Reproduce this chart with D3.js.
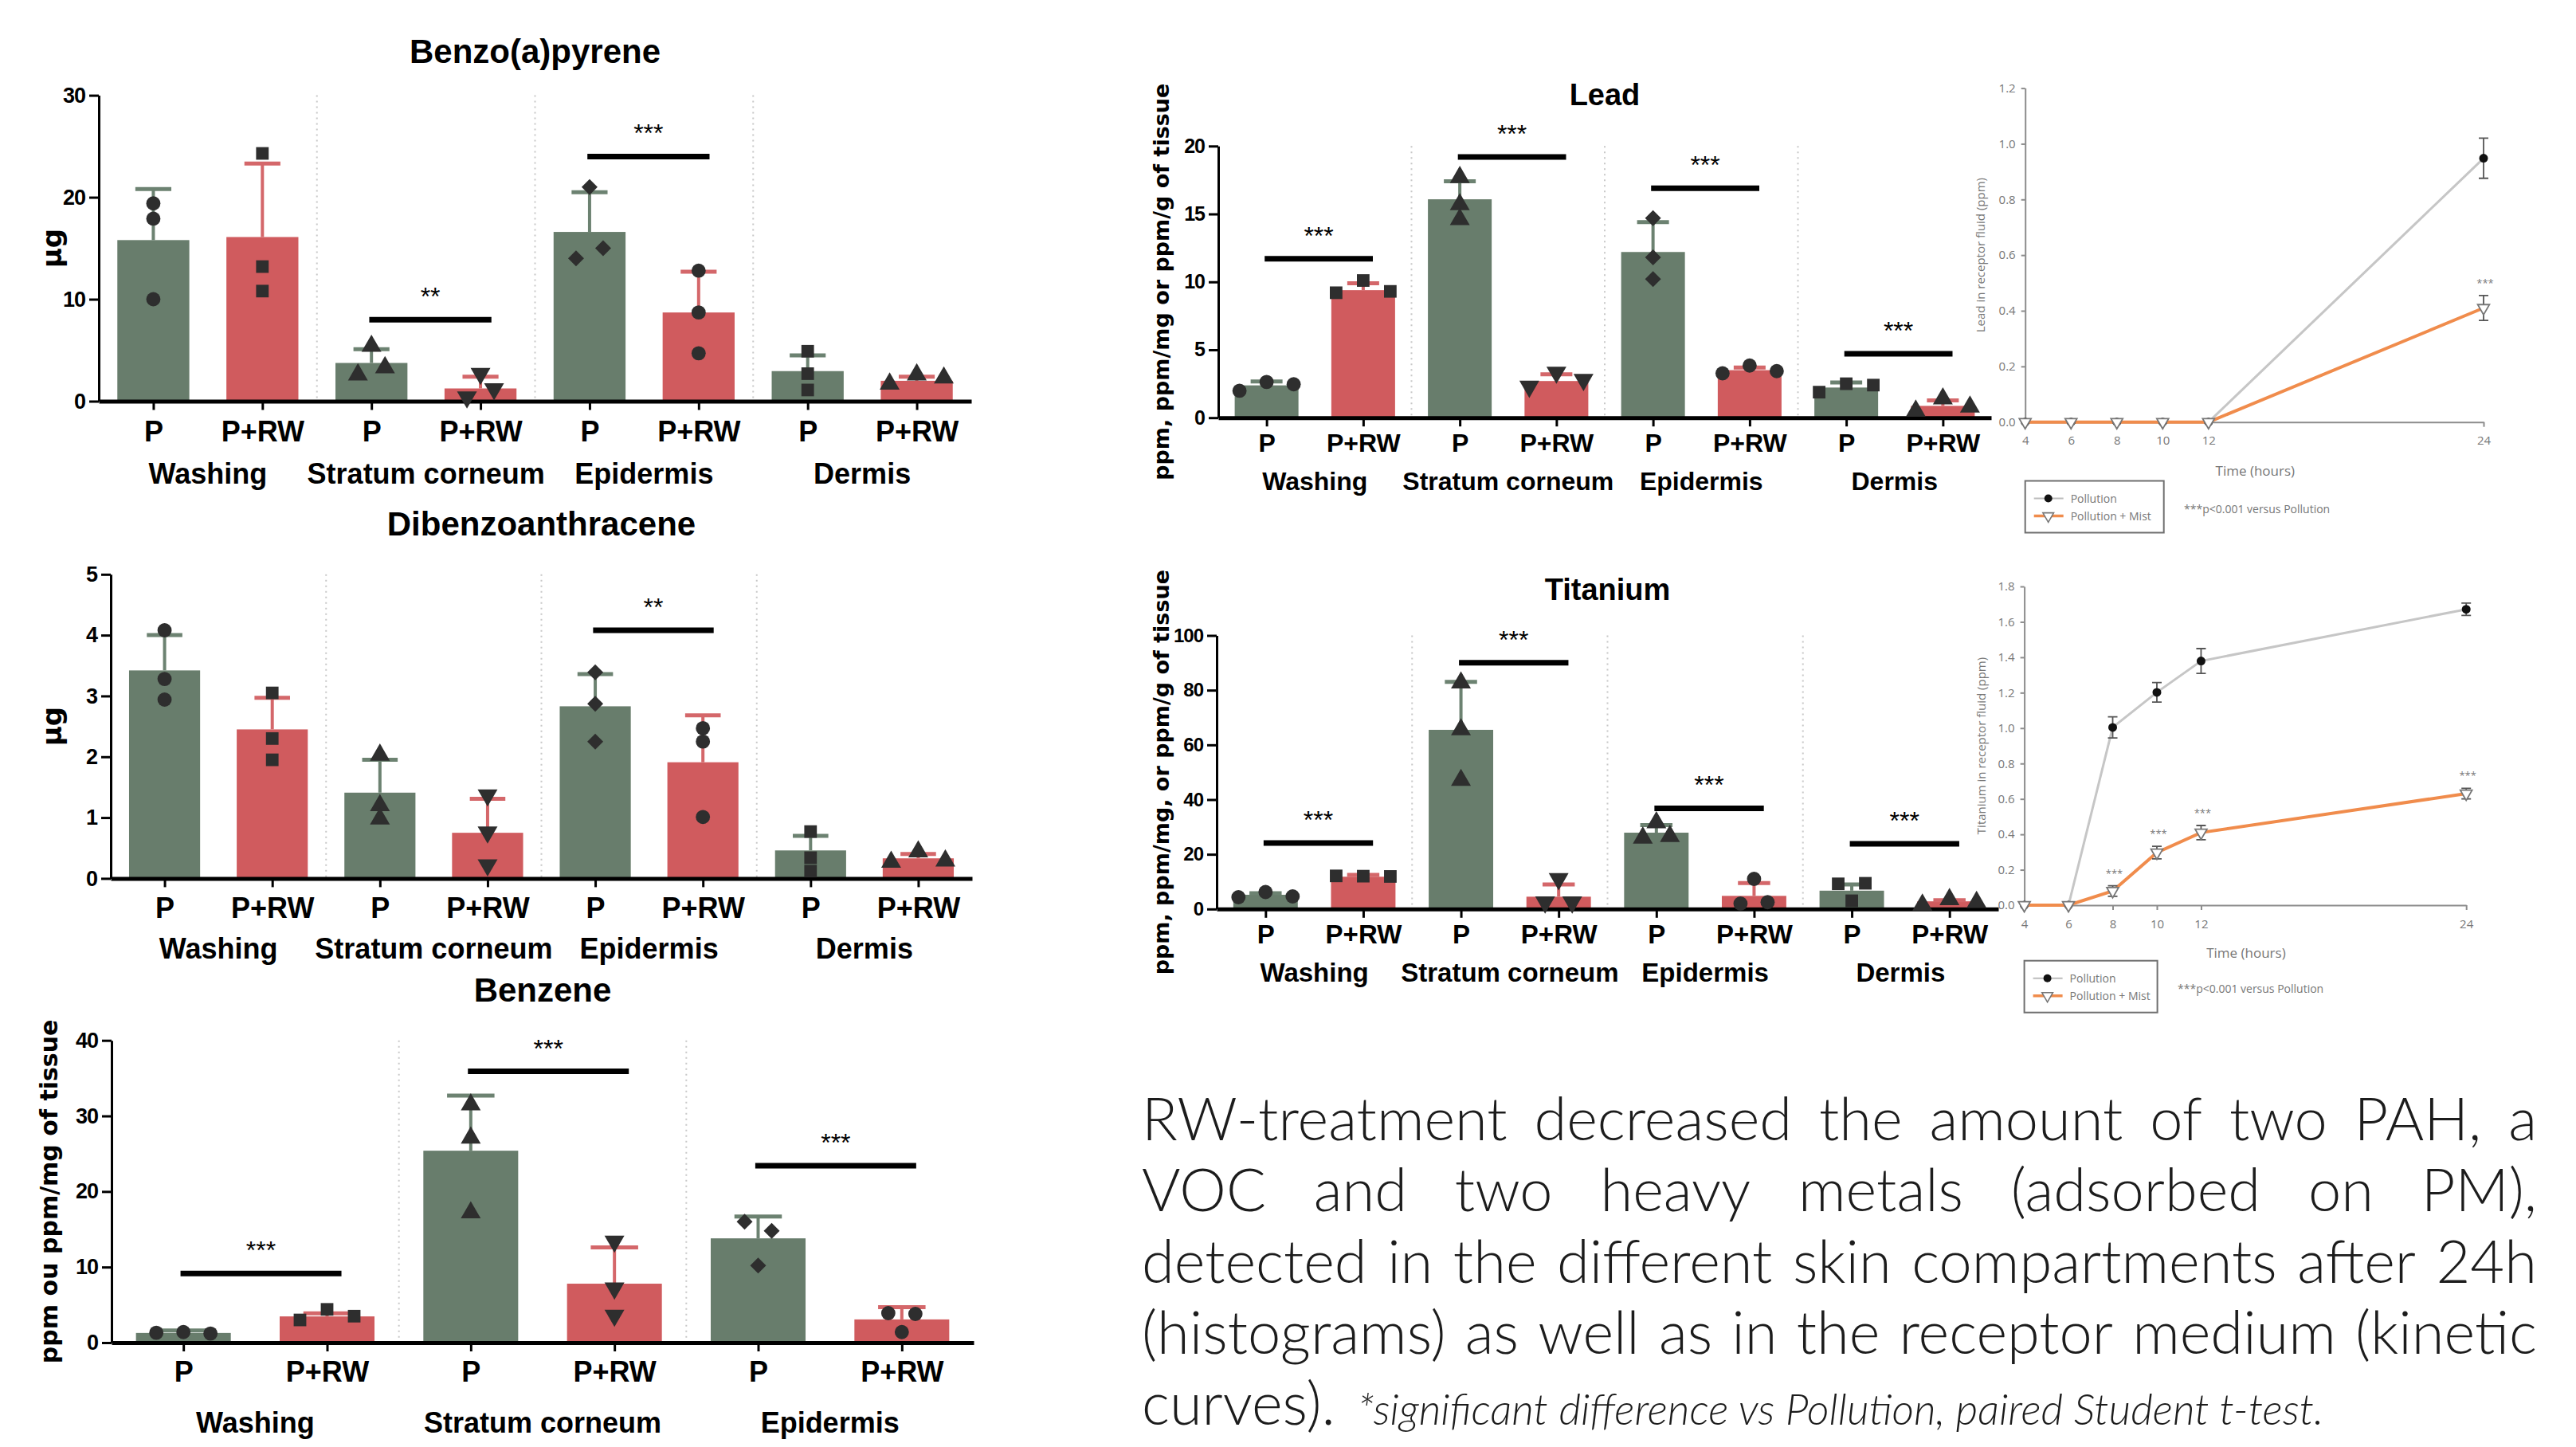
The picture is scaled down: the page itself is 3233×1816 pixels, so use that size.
<!DOCTYPE html>
<html>
<head>
<meta charset="utf-8">
<script src="https://cdn.jsdelivr.net/npm/d3@7"></script>
<style>
  body { margin: 0; background: #fff; }
  svg { display: block; }
</style>
</head>
<body>
<script>
// DATA
var treatments = ["P", "P+RW"];
var compartments = ["Washing", "Stratum corneum", "Epidermis", "Dermis"];
var shapes = ["circle", "square", "triangle", "triangleDown", "diamond", "circle", "square", "triangle"];
var tiShapes = ["circle", "square", "triangle", "triangleDown", "triangle", "circle", "square", "triangle"];

// Benzo(a)pyrene, µg
var benzoMeans = [15.8, 16.1, 3.75, 1.25, 16.6, 8.7, 2.95, 2.0];
var benzoErr = [20.8, 23.3, 5.1, 2.4, 20.5, 12.7, 4.5, 2.4];
var benzoPoints = [[19.4, 17.9, 10.0], [24.3, 13.2, 10.8], [5.4, 2.6, 3.3], [2.7, 0.4, 1.2],
    [21.0, 14.0, 15.0], [12.8, 8.7, 4.7], [4.9, 2.7, 1.1], [1.7, 2.6, 2.3]];
var benzoSig = [[1, 8.0, "**"], [2, 24.0, "***"]];
var benzoTicks = [0, 10, 20, 30];

// Dibenzoanthracene, µg
var dibenzoMeans = [3.42, 2.45, 1.41, 0.75, 2.83, 1.91, 0.46, 0.33];
var dibenzoErr = [4.0, 2.97, 1.95, 1.31, 3.36, 2.68, 0.70, 0.40];
var dibenzoPoints = [[4.08, 3.28, 2.94], [3.05, 2.3, 1.95], [2.03, 1.2, 0.98], [1.37, 0.76, 0.22],
    [3.39, 2.87, 2.25], [2.47, 2.25, 1.01], [0.77, 0.34, 0.12], [0.27, 0.44, 0.29]];
var dibenzoSig = [[2, 4.08, "**"]];
var dibenzoTicks = [0, 1, 2, 3, 4, 5];

// Benzene, ppm ou ppm/mg of tissue
var benzeneMeans = [1.28, 3.47, 25.4, 7.8, 13.8, 3.07];
var benzeneErr = [1.6, 3.87, 32.7, 12.6, 16.7, 4.7];
var benzenePoints = [[1.3, 1.4, 1.2], [3.0, 4.4, 3.5], [31.5, 27.1, 17.2], [13.4, 7.2, 3.6],
    [16.0, 14.8, 10.2], [3.9, 3.8, 1.4]];
var benzeneSig = [[0, 9.14, "***"], [1, 35.9, "***"], [2, 23.4, "***"]];
var benzeneTicks = [0, 10, 20, 30, 40];

// Lead
var leadMeans = [2.38, 9.39, 16.08, 2.7, 12.2, 3.5, 2.22, 0.87];
var leadErr = [2.67, 9.9, 17.4, 3.2, 14.4, 3.7, 2.6, 1.27];
var leadPoints = [[1.98, 2.63, 2.46], [9.2, 10.1, 9.3], [17.7, 15.7, 14.6], [2.3, 3.33, 2.8],
    [14.7, 11.8, 10.2], [3.27, 3.84, 3.43], [1.88, 2.5, 2.4], [0.5, 1.4, 0.8]];
var leadSig = [[0, 11.7, "***"], [1, 19.2, "***"], [2, 16.9, "***"], [3, 4.7, "***"]];
var leadTicks = [0, 5, 10, 15, 20];

// Titanium
var tiMeans = [5.2, 11.8, 65.5, 4.5, 27.9, 4.8, 6.7, 2.8];
var tiErr = [5.8, 12.5, 83.0, 9.0, 30.7, 9.5, 9.0, 3.2];
var tiPoints = [[4.3, 6.2, 4.6], [12.1, 12.0, 11.9], [82.7, 65.6, 47.1], [2.5, 11.0, 2.5],
    [26.0, 31.6, 26.6], [2.0, 11.0, 2.5], [9.2, 3.0, 9.4], [1.5, 3.5, 2.5]];
var tiSig = [[0, 24.1, "***"], [1, 90.0, "***"], [2, 36.8, "***"], [3, 23.8, "***"]];
var tiTicks = [0, 20, 40, 60, 80, 100];

// kinetics in receptor fluid (ppm)
var hours = [4, 6, 8, 10, 12, 24];
var leadPollution = [0, 0, 0, 0, 0, 0.948];
var leadPollutionSd = [0, 0, 0, 0, 0, 0.072];
var leadMist = [0, 0, 0, 0, 0, 0.41];
var leadMistSd = [0, 0, 0, 0, 0, 0.045];
var leadMistSig = [0, 0, 0, 0, 0, 1];
var leadKTicks = [0, 0.2, 0.4, 0.6, 0.8, 1.0, 1.2];

var tiPollution = [0, 0, 1.004, 1.202, 1.379, 1.671];
var tiPollutionSd = [0, 0, 0.06, 0.055, 0.07, 0.035];
var tiMist = [0, 0, 0.08, 0.297, 0.41, 0.63];
var tiMistSd = [0, 0, 0.03, 0.035, 0.04, 0.03];
var tiMistSig = [0, 0, 1, 1, 1, 1];
var tiKTicks = [0, 0.2, 0.4, 0.6, 0.8, 1.0, 1.2, 1.4, 1.6, 1.8];

var summaryLines = [
    "RW-treatment decreased the amount of two PAH, a",
    "VOC and two heavy metals (adsorbed on PM),",
    "detected in the different skin compartments after 24h",
    "(histograms) as well as in the receptor medium (kinetic"
];
var summaryLast = "curves).";
var summaryNote = "*significant difference vs Pollution, paired Student t-test.";

// STYLE
var FONT = "'Liberation Sans', Arial, sans-serif";
var LABEL_FONT = "'DejaVu Sans', Verdana, sans-serif";
var KFONT = "'Open Sans', sans-serif";
var barColors = ["#687d6c", "#d05b5e"];
var capColors = ["#6c8271", "#d4676a"];

var svg = d3.select("body").append("svg")
    .attr("width", 3233)
    .attr("height", 1816);

// HELPERS
// points whose markers overlap vertically are grouped and spread sideways
function spreadOffsets(vals, y, thr, d) {
    var px = vals.map(y);
    var parent = vals.map(function (v, i) { return i; });
    function find(i) { while (parent[i] !== i) i = parent[i]; return i; }
    for (var i = 0; i < vals.length; i++)
        for (var j = i + 1; j < vals.length; j++)
            if (Math.abs(px[i] - px[j]) < thr) parent[find(j)] = find(i);
    var groups = {};
    vals.forEach(function (v, i) {
        var r = find(i);
        (groups[r] = groups[r] || []).push(i);
    });
    var off = [];
    Object.values(groups).forEach(function (ids) {
        ids.forEach(function (id, k) { off[id] = (k - (ids.length - 1) / 2) * d; });
    });
    return off;
}

function markerPath(shape) {
    if (shape === "circle") return d3.symbol().type(d3.symbolCircle).size(250)();
    if (shape === "square" || shape === "diamond") return d3.symbol().type(d3.symbolSquare).size(shape === "diamond" ? 200 : 250)();
    return d3.symbol().type(d3.symbolTriangle).size(270)();
}

function drawBarPanel(p) {
    var g = svg.append("g");
    var idx = d3.range(p.means.length);
    var x = d3.scalePoint().domain(idx).range([p.x0, p.x1]).padding(0.5);
    var step = x.step(), bw = step * 0.66;
    var y = d3.scaleLinear().domain([0, p.ymax]).range([p.yZero, p.yTop]);

    // dotted separators between compartments
    d3.range(1, idx.length / 2).forEach(function (k) {
        var sx = (x(2 * k - 1) + x(2 * k)) / 2;
        g.append("line")
            .attr("x1", sx).attr("x2", sx)
            .attr("y1", p.yTop).attr("y2", p.yZero)
            .attr("stroke", "#c8c8c8")
            .attr("stroke-width", 2)
            .attr("stroke-dasharray", "2,5");
    });

    g.selectAll("rect.bar")
        .data(idx)
        .enter()
        .append("rect")
        .attr("class", "bar")
        .attr("x", function (i) { return x(i) - bw / 2; })
        .attr("width", bw)
        .attr("y", function (i) { return y(p.means[i]); })
        .attr("height", function (i) { return p.yZero - y(p.means[i]); })
        .attr("fill", function (i) { return barColors[i % 2]; });

    // upper error bars
    idx.forEach(function (i) {
        g.append("line")
            .attr("x1", x(i)).attr("x2", x(i))
            .attr("y1", y(p.means[i])).attr("y2", y(p.err[i]))
            .attr("stroke", capColors[i % 2])
            .attr("stroke-width", 4);
        g.append("line")
            .attr("x1", x(i) - bw / 4).attr("x2", x(i) + bw / 4)
            .attr("y1", y(p.err[i])).attr("y2", y(p.err[i]))
            .attr("stroke", capColors[i % 2])
            .attr("stroke-width", 5);
    });

    // axes
    var yAxis = g.append("g")
        .attr("transform", "translate(" + p.x0 + ",0)")
        .call(d3.axisLeft(y).tickValues(p.yTicks).tickFormat(d3.format("d"))
            .tickSize(12).tickPadding(5).tickSizeOuter(0));
    yAxis.select(".domain").attr("stroke-width", 3);
    yAxis.selectAll(".tick line").attr("stroke-width", 3);
    yAxis.selectAll("text")
        .attr("font-family", FONT)
        .attr("font-weight", "bold")
        .attr("font-size", p.yTickFont)
        .attr("letter-spacing", -1)
        .attr("fill", "#000");

    var xAxis = g.append("g")
        .attr("transform", "translate(0," + p.yZero + ")")
        .call(d3.axisBottom(x).tickSize(11).tickSizeOuter(0)
            .tickFormat(function (i) { return treatments[i % 2]; }));
    xAxis.select(".domain").attr("stroke-width", 5);
    xAxis.selectAll(".tick line").attr("stroke-width", 3);
    xAxis.selectAll("text")
        .attr("dy", 0)
        .attr("y", p.tickLabelY - p.yZero)
        .attr("font-family", FONT)
        .attr("font-weight", "bold")
        .attr("font-size", p.labelFont)
        .attr("fill", "#000");

    // individual values
    idx.forEach(function (i) {
        var offs = spreadOffsets(p.points[i], y, 15, 34);
        p.points[i].forEach(function (v, k) {
            var shape = p.shapes[i];
            var rot = shape === "triangleDown" ? 180 : (shape === "diamond" ? 45 : 0);
            g.append("path")
                .attr("d", markerPath(shape))
                .attr("transform", "translate(" + (x(i) + offs[k]) + "," + y(v) + ") rotate(" + rot + ")")
                .attr("fill", "#2e2e2e");
        });
    });

    // significance
    p.sig.forEach(function (s) {
        var a = x(2 * s[0]) - 0.02 * step, b = x(2 * s[0] + 1) + 0.1 * step;
        g.append("line")
            .attr("x1", a).attr("x2", b)
            .attr("y1", y(s[1])).attr("y2", y(s[1]))
            .attr("stroke", "#000")
            .attr("stroke-width", 7);
        g.append("text")
            .attr("x", (a + b) / 2)
            .attr("y", y(s[1]) - 18)
            .attr("text-anchor", "middle")
            .attr("font-family", FONT)
            .attr("font-size", 32)
            .text(s[2]);
    });

    // compartment names
    d3.range(idx.length / 2).forEach(function (k) {
        g.append("text")
            .attr("x", (x(2 * k) + x(2 * k + 1)) / 2)
            .attr("y", p.groupLabelY)
            .attr("text-anchor", "middle")
            .attr("font-family", FONT)
            .attr("font-weight", "bold")
            .attr("font-size", p.labelFont)
            .text(compartments[k]);
    });

    g.append("text")
        .attr("x", (p.x0 + p.x1) / 2)
        .attr("y", p.titleY)
        .attr("text-anchor", "middle")
        .attr("font-family", FONT)
        .attr("font-weight", "bold")
        .attr("font-size", p.titleFont)
        .text(p.title);

    g.append("text")
        .attr("transform", "translate(" + p.yLabelX + "," + (p.yTop + p.yZero) / 2 + ")rotate(-90)")
        .attr("text-anchor", "middle")
        .attr("dominant-baseline", "central")
        .attr("font-family", LABEL_FONT)
        .attr("font-weight", "bold")
        .attr("font-size", p.yLabelFont)
        .text(p.yLabel);
}

function drawKinetic(p) {
    var g = svg.append("g");
    var x = d3.scaleLinear().domain([4, 24]).range([p.x0, p.x1]);
    var y = d3.scaleLinear().domain([0, p.ymax]).range([p.yZero, p.yTop]);
    var grey = "#8c8c8c", txt = "#777";

    var yAxis = g.append("g")
        .attr("transform", "translate(" + p.x0 + ",0)")
        .call(d3.axisLeft(y).tickValues(p.yTicks).tickFormat(d3.format(".1f")).tickSize(5).tickPadding(7).tickSizeOuter(0));
    var xAxis = g.append("g")
        .attr("transform", "translate(0," + p.yZero + ")")
        .call(d3.axisBottom(x).tickValues(hours).tickSize(6).tickPadding(12).tickSizeOuter(0));
    [yAxis, xAxis].forEach(function (a) {
        a.selectAll(".domain, .tick line").attr("stroke", grey).attr("stroke-width", 2);
        a.selectAll("text")
            .attr("font-family", KFONT)
            .attr("font-size", 15)
            .attr("fill", txt);
    });

    var line = d3.line()
        .x(function (d, i) { return x(hours[i]); })
        .y(function (d) { return y(d); });
    g.append("path").attr("d", line(p.pollution))
        .attr("fill", "none").attr("stroke", "#c6c6c6").attr("stroke-width", 3);
    g.append("path").attr("d", line(p.mist))
        .attr("fill", "none").attr("stroke", "#f08c4c").attr("stroke-width", 4);

    [[p.pollution, p.pollutionSd], [p.mist, p.mistSd]].forEach(function (s) {
        s[0].forEach(function (v, i) {
            if (!s[1][i]) return;
            var cx = x(hours[i]), lo = y(v - s[1][i]), hi = y(v + s[1][i]);
            g.append("path")
                .attr("d", "M" + cx + "," + lo + "V" + hi + "M" + (cx - 6) + "," + lo + "H" + (cx + 6) + "M" + (cx - 6) + "," + hi + "H" + (cx + 6))
                .attr("fill", "none").attr("stroke", "#555").attr("stroke-width", 1.8);
        });
    });

    p.pollution.forEach(function (v, i) {
        g.append("circle").attr("cx", x(hours[i])).attr("cy", y(v)).attr("r", 5.5).attr("fill", "#111");
    });
    var tri = d3.symbol().type(d3.symbolTriangle).size(95)();
    p.mist.forEach(function (v, i) {
        g.append("path").attr("d", tri)
            .attr("transform", "translate(" + x(hours[i]) + "," + y(v) + ") rotate(180)")
            .attr("fill", "#fff").attr("stroke", "#777").attr("stroke-width", 1.8);
        if (p.mistSig[i]) {
            g.append("text")
                .attr("x", x(hours[i]) + 2)
                .attr("y", y(v + p.mistSd[i]) - 11)
                .attr("text-anchor", "middle")
                .attr("font-family", KFONT)
                .attr("font-size", 13)
                .attr("fill", txt)
                .text("***");
        }
    });

    g.append("text")
        .attr("x", (x(4) + x(24)) / 2 + 1)
        .attr("y", p.timeY)
        .attr("text-anchor", "middle")
        .attr("font-family", KFONT)
        .attr("font-size", 17)
        .attr("fill", txt)
        .text("Time (hours)");

    g.append("text")
        .attr("transform", "translate(" + p.yLabelX + "," + (p.yTop + p.yZero) / 2 + ")rotate(-90)")
        .attr("text-anchor", "middle")
        .attr("dominant-baseline", "central")
        .attr("font-family", KFONT)
        .attr("font-size", 15)
        .attr("fill", txt)
        .text(p.yLabel);

    // legend
    var lg = g.append("g").attr("transform", "translate(" + p.x0 + "," + p.legendY + ")");
    lg.append("rect").attr("width", p.legendW).attr("height", 65)
        .attr("fill", "#fff").attr("stroke", "#6f6f6f").attr("stroke-width", 2);
    [["Pollution", "#bdbdbd"], ["Pollution + Mist", "#f08c4c"]].forEach(function (r, k) {
        var ly = 22 + k * 22;
        lg.append("line").attr("x1", 11).attr("x2", 48).attr("y1", ly).attr("y2", ly)
            .attr("stroke", r[1]).attr("stroke-width", k ? 3.5 : 2);
        if (k) {
            lg.append("path").attr("d", d3.symbol().type(d3.symbolTriangle).size(80)())
                .attr("transform", "translate(29," + ly + ") rotate(180)")
                .attr("fill", "#fff").attr("stroke", "#777").attr("stroke-width", 1.6);
        } else {
            lg.append("circle").attr("cx", 29).attr("cy", ly).attr("r", 5).attr("fill", "#111");
        }
        lg.append("text").attr("x", 57).attr("y", ly + 5)
            .attr("font-family", KFONT)
            .attr("font-size", 14)
            .attr("fill", txt)
            .text(r[0]);
    });
    g.append("text")
        .attr("x", p.noteX)
        .attr("y", p.legendY + 40)
        .attr("font-family", KFONT)
        .attr("font-size", 14)
        .attr("fill", txt)
        .text("***p<0.001 versus Pollution");
}

// RENDER
drawBarPanel({
    title: "Benzo(a)pyrene", yLabel: "µg",
    means: benzoMeans, err: benzoErr, points: benzoPoints, sig: benzoSig, shapes: shapes,
    ymax: 30, yTicks: benzoTicks,
    x0: 124, x1: 1219, yTop: 119.6, yZero: 503.5,
    titleY: 79, tickLabelY: 554, groupLabelY: 607, yLabelX: 65,
    titleFont: 42, labelFont: 36, yTickFont: 27, yLabelFont: 34
});

drawBarPanel({
    title: "Dibenzoanthracene", yLabel: "µg",
    means: dibenzoMeans, err: dibenzoErr, points: dibenzoPoints, sig: dibenzoSig, shapes: shapes,
    ymax: 5, yTicks: dibenzoTicks,
    x0: 139, x1: 1220, yTop: 720.8, yZero: 1102.4,
    titleY: 672, tickLabelY: 1152, groupLabelY: 1203, yLabelX: 65,
    titleFont: 42, labelFont: 36, yTickFont: 27, yLabelFont: 34
});

drawBarPanel({
    title: "Benzene", yLabel: "ppm ou ppm/mg of tissue",
    means: benzeneMeans, err: benzeneErr, points: benzenePoints, sig: benzeneSig, shapes: shapes,
    ymax: 40, yTicks: benzeneTicks,
    x0: 140, x1: 1222, yTop: 1305.7, yZero: 1685,
    titleY: 1257, tickLabelY: 1734, groupLabelY: 1798, yLabelX: 61,
    titleFont: 42, labelFont: 36, yTickFont: 27, yLabelFont: 30
});

drawBarPanel({
    title: "Lead", yLabel: "ppm, ppm/mg or ppm/g of tissue",
    means: leadMeans, err: leadErr, points: leadPoints, sig: leadSig, shapes: shapes,
    ymax: 20, yTicks: leadTicks,
    x0: 1529, x1: 2499, yTop: 183.3, yZero: 524.2,
    titleY: 132, tickLabelY: 567, groupLabelY: 615, yLabelX: 1457,
    titleFont: 38, labelFont: 32, yTickFont: 25, yLabelFont: 27
});

drawBarPanel({
    title: "Titanium", yLabel: "ppm, ppm/mg, or ppm/g of tissue",
    means: tiMeans, err: tiErr, points: tiPoints, sig: tiSig, shapes: tiShapes,
    ymax: 100, yTicks: tiTicks,
    x0: 1527, x1: 2508, yTop: 797.5, yZero: 1140.8,
    titleY: 753, tickLabelY: 1184, groupLabelY: 1232, yLabelX: 1457,
    titleFont: 38, labelFont: 33, yTickFont: 24, yLabelFont: 27
});

drawKinetic({
    yLabel: "Lead in receptor fluid (ppm)",
    pollution: leadPollution, pollutionSd: leadPollutionSd,
    mist: leadMist, mistSd: leadMistSd, mistSig: leadMistSig,
    ymax: 1.2, yTicks: leadKTicks,
    x0: 2541.7, x1: 3117, yTop: 110.6, yZero: 529.7,
    timeY: 597, yLabelX: 2485, legendY: 603.5, legendW: 174, noteX: 2741
});

drawKinetic({
    yLabel: "Titanium in receptor fluid (ppm)",
    pollution: tiPollution, pollutionSd: tiPollutionSd,
    mist: tiMist, mistSd: tiMistSd, mistSig: tiMistSig,
    ymax: 1.8, yTicks: tiKTicks,
    x0: 2540.6, x1: 3095.2, yTop: 736, yZero: 1136,
    timeY: 1202, yLabelX: 2486, legendY: 1205.7, legendW: 167, noteX: 2733
});

// justified summary text, one text element per word
(function () {
    var left = 1433, right = 3184, base = 1431, lead = 89.3;
    var tg = svg.append("g")
        .attr("font-family", "Lato, 'Open Sans', sans-serif")
        .attr("font-weight", 300)
        .attr("font-size", 74)
        .attr("fill", "#1c1c1c");
    summaryLines.forEach(function (line, i) {
        var words = line.split(" ");
        var nodes = words.map(function (w) {
            return tg.append("text").attr("x", 0).attr("y", base + i * lead).text(w);
        });
        var widths = nodes.map(function (n) { return n.node().getBBox().width; });
        var gap = (right - left - d3.sum(widths)) / (words.length - 1);
        var xx = left;
        nodes.forEach(function (n, k) { n.attr("x", xx); xx += widths[k] + gap; });
    });
    var last = tg.append("text").attr("x", left).attr("y", base + 4 * lead).text(summaryLast);
    var noteX = left + last.node().getBBox().width + 28;
    var note = tg.append("text")
        .attr("x", noteX)
        .attr("y", base + 4 * lead)
        .attr("font-style", "italic")
        .attr("font-size", 50)
        .text(summaryNote);
    var nw = note.node().getComputedTextLength();
    note.attr("font-size", 50 * 1213 / nw);
})();
</script>
</body>
</html>
